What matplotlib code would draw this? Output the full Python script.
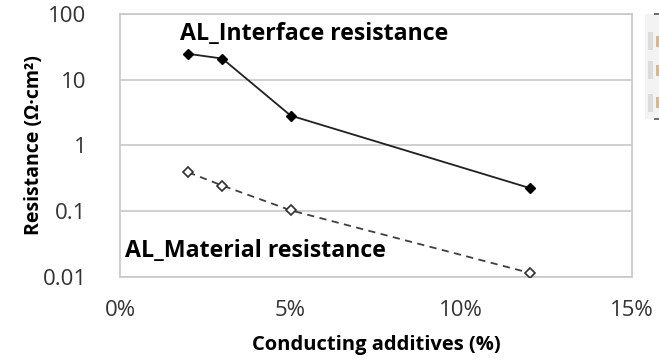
import matplotlib
matplotlib.use("Agg")
from matplotlib import pyplot as plt
from matplotlib import patches
from matplotlib.ticker import FixedLocator, FixedFormatter, NullLocator

plt.rcParams['font.family'] = ['Open Sans', 'Noto Sans CJK JP', 'DejaVu Sans']

# data
additive_pct = [2, 3, 5, 12]
interface_res = [24.8, 21.0, 2.85, 0.225]
material_res = [0.39, 0.245, 0.103, 0.0115]

y_ticks = [0.01, 0.1, 1, 10, 100]
y_labels = ["0.01", "0.1", "1", "10", "100"]
x_ticks = [0, 5, 10, 15]
x_labels = ["0%", "5%", "10%", "15%"]

fig = plt.figure(figsize=(6.59, 3.6), dpi=100)
ax = fig.add_axes([0.182, 0.231, 0.777, 0.730])

ax.plot(additive_pct, interface_res, color="#202020", lw=1.3, marker="D",
        ms=5.5, mfc="black", mec="black", zorder=3)
ax.plot(additive_pct, material_res, color="#404040", lw=1.3, ls=(0, (4, 3)),
        marker="D", ms=5, mfc="white", mec="#303030", mew=1.2, zorder=3)

ax.set_yscale("log")
ax.set_ylim(0.01, 100)
ax.set_xlim(0, 15)
ax.yaxis.set_major_locator(FixedLocator(y_ticks))
ax.yaxis.set_major_formatter(FixedFormatter(y_labels))
ax.yaxis.set_minor_locator(NullLocator())
ax.xaxis.set_major_locator(FixedLocator(x_ticks))
ax.xaxis.set_major_formatter(FixedFormatter(x_labels))
ax.grid(axis="y", color="#c8c8c8", lw=1.2)
ax.set_axisbelow(True)
for s in ax.spines.values():
    s.set_color("#c8c8c8")
    s.set_linewidth(1.2)
ax.tick_params(axis="both", length=0, labelsize=16, colors="#333333")
ax.tick_params(axis="y", pad=24)
ax.tick_params(axis="x", pad=17)

ax.set_ylabel("Resistance (Ω·cm²)", fontsize=14, fontweight="bold")
ax.set_xlabel("Conducting additives (%)", fontsize=14.5, fontweight="bold", labelpad=10)
ax.yaxis.set_label_coords(-0.148, 0.5)

ax.text(1.75, 50, "AL_Interface resistance", fontsize=16.7, fontweight="bold",
        va="center", ha="left")
ax.text(0.15, 0.0245, "AL_Material resistance", fontsize=16.7, fontweight="bold",
        va="center", ha="left")

# cut-off legend box at the right edge
fig.patches.append(patches.Rectangle((0.978, 0.67), 0.03, 0.29, transform=fig.transFigure,
                                     facecolor="#f3f3f3", edgecolor="none"))
for yy in [0.96, 0.67]:
    fig.patches.append(patches.Rectangle((0.992, yy - 0.003), 0.01, 0.006, transform=fig.transFigure,
                                         facecolor="#707070", edgecolor="none"))
for yy in [0.86, 0.78, 0.69]:
    fig.patches.append(patches.Rectangle((0.983, yy), 0.008, 0.05, transform=fig.transFigure,
                                         facecolor="#dcdcdc", edgecolor="none"))
    fig.patches.append(patches.Rectangle((0.995, yy + 0.01), 0.005, 0.03, transform=fig.transFigure,
                                         facecolor="#d6b88c", edgecolor="none"))

fig.savefig("out.png", dpi=100)
